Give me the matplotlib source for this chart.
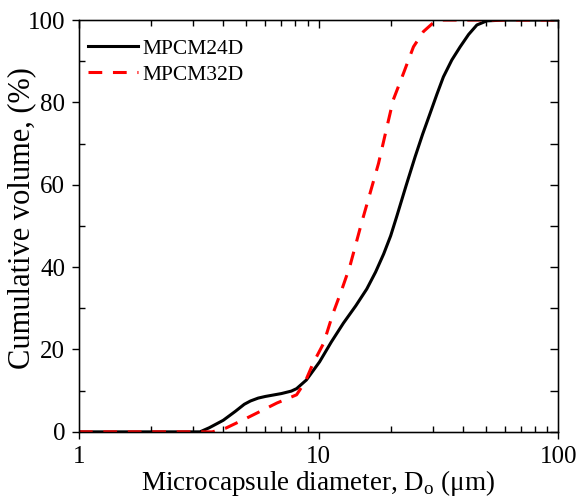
import matplotlib
matplotlib.use('Agg')
import matplotlib.pyplot as plt
from matplotlib.ticker import LogLocator, NullFormatter, FixedLocator

plt.rcParams['font.family'] = ['Liberation Serif', 'DejaVu Serif']
plt.rcParams['mathtext.fontset'] = 'custom'
plt.rcParams['mathtext.rm'] = 'Liberation Serif'

# MPCM24D (solid black)
d24 = [1, 2, 3.2, 3.5, 4.0, 4.5, 4.9, 5.2, 5.6, 6.0, 7.0, 7.7, 8.1, 8.9, 10.1, 11.3,
       12.7, 14.3, 15.9, 17.3, 18.7, 20.0, 21.2, 23.2, 25.3, 27.2, 29.2, 31.2, 33.2,
       36.0, 39.0, 42.3, 45.8, 50.4, 60, 100]
v24 = [0, 0, 0, 1.0, 2.8, 5.0, 6.7, 7.5, 8.2, 8.6, 9.3, 9.9, 10.5, 12.6, 17.0, 21.8,
       26.4, 30.6, 34.7, 38.8, 43.2, 47.6, 52.3, 59.8, 66.8, 72.3, 77.3, 82.0, 86.2,
       90.3, 93.5, 96.5, 98.8, 99.8, 100, 100]

# MPCM32D (dashed red)
d32 = [1, 2, 3.6, 4.1, 5.0, 5.5, 6.7, 8.1, 8.8, 9.5, 10.5, 11.5, 12.5, 13.5, 15.1,
       16.4, 17.8, 19.2, 20.5, 22.6, 24.9, 27.4, 30.2, 33, 100]
v32 = [0, 0, 0, 0.9, 3.3, 4.5, 7.0, 9.0, 12.2, 16.7, 21.5, 28.8, 34.5, 40.1, 50.6,
       57.9, 65.2, 73.5, 80.6, 87.0, 93.5, 97.2, 99.4, 100, 100]

fig = plt.figure(figsize=(5.76, 5.01), dpi=100)
ax = fig.add_axes([0.137, 0.138, 0.832, 0.822])

ax.plot(d24, v24, color='black', lw=2.2, label='MPCM24D')
ax.plot(d32, v32, color='red', lw=2.2, ls=(0, (4.5, 3.5)), label='MPCM32D')

ax.set_xscale('log')
ax.set_xlim(1, 100)
ax.set_ylim(0, 100)
ax.set_xticks([1, 10, 100])
ax.set_xticklabels(['1', '10', '100'])
ax.xaxis.set_minor_locator(LogLocator(base=10, subs=range(2, 10)))
ax.xaxis.set_minor_formatter(NullFormatter())
ax.set_yticks([0, 20, 40, 60, 80, 100])
ax.yaxis.set_minor_locator(FixedLocator([10, 30, 50, 70, 90]))
ax.tick_params(which='major', direction='out', length=5, width=1, labelsize=18, pad=5)
ax.tick_params(which='minor', direction='in', length=4, width=1)
for sp in ax.spines.values():
    sp.set_linewidth(1)

# inward ticks on top and right
axt = ax.twiny()
axt.set_xscale('log')
axt.set_xlim(1, 100)
axt.set_xticks([1, 10, 100])
axt.xaxis.set_minor_locator(LogLocator(base=10, subs=range(2, 10)))
axt.xaxis.set_minor_formatter(NullFormatter())
axt.tick_params(axis='x', which='both', direction='in', labeltop=False)
axt.tick_params(axis='x', which='major', length=6, width=1)
axt.tick_params(axis='x', which='minor', length=4, width=1)
axr = ax.twinx()
axr.set_ylim(0, 100)
axr.set_yticks([0, 20, 40, 60, 80, 100])
axr.yaxis.set_minor_locator(FixedLocator([10, 30, 50, 70, 90]))
axr.tick_params(axis='y', which='both', direction='in', labelright=False, length=6, width=1)

ax.set_xlabel(r'Microcapsule diameter, D$_\mathrm{o}$ (μm)', fontsize=19.5, labelpad=0)
ax.set_ylabel('Cumulative volume, (%)', fontsize=22)
ax.yaxis.set_label_coords(-0.09, 0.52)

ax.legend(loc='upper left', bbox_to_anchor=(0, 0.976), frameon=False, fontsize=15.5,
          handlelength=2.33, borderaxespad=0, handletextpad=0.23, labelspacing=0.29)

fig.savefig('out.png', dpi=100)
